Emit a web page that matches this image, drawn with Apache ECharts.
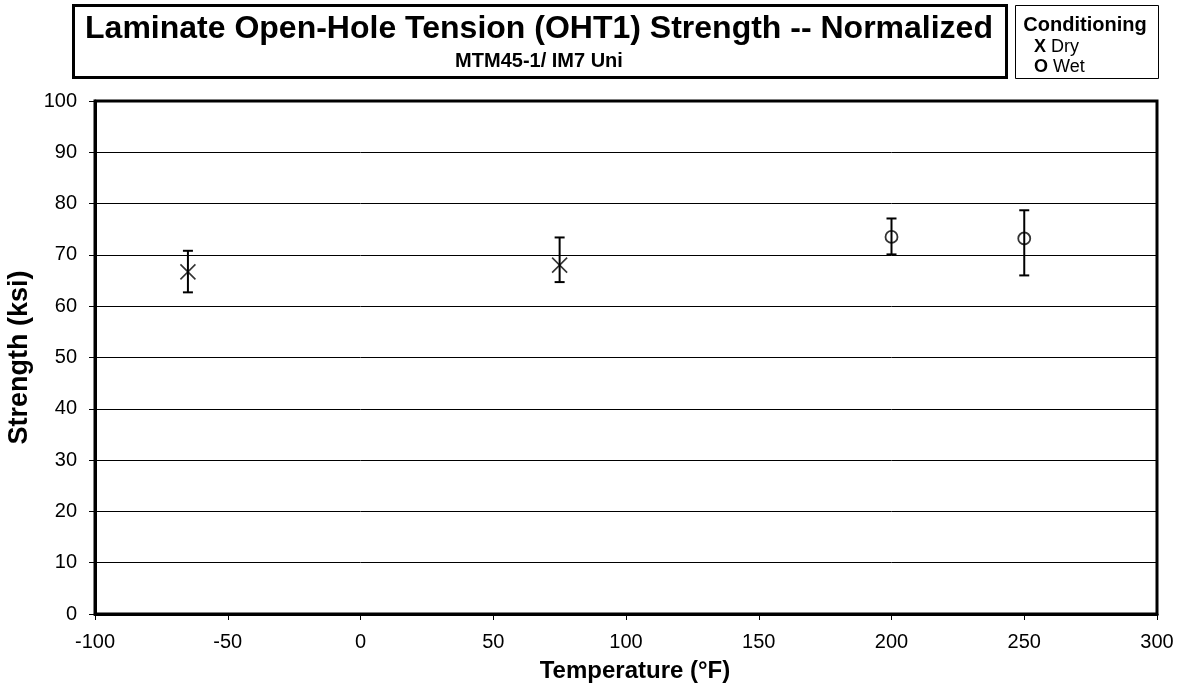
<!DOCTYPE html>
<html>
<head>
<meta charset="utf-8">
<script src="https://cdn.jsdelivr.net/npm/echarts@6/dist/echarts.min.js"></script>
<style>
  html, body { margin: 0; padding: 0; background: #fff; }
  #chart { width: 1182px; height: 692px; }
</style>
</head>
<body>
<div id="chart"></div>
<script>
// Temperature (°F) and strength (ksi)
const dryTemps = [-65, 75];
const dryMean = [66.7, 68.0];
const dryLow = [62.7, 64.7];
const dryHigh = [70.8, 73.4];

const wetTemps = [200, 250];
const wetMean = [73.5, 73.2];
const wetLow = [70.1, 66.0];
const wetHigh = [77.1, 78.7];

const xTicks = [-100, 300, 50];   // min, max, interval
const yTicks = [0, 100, 10];

const FONT = 'Liberation Sans, Arial, sans-serif';

const chart = echarts.init(document.getElementById('chart'), null, { renderer: 'canvas' });

// 误差棒
const errorBarItem = (params, api) => {
  const top = api.coord([api.value(0), api.value(2)]);
  const bot = api.coord([api.value(0), api.value(1)]);
  const w = 5;
  const style = { stroke: '#000', lineWidth: 2, fill: null };
  return {
    type: 'group',
    children: [
      { type: 'line', shape: { x1: top[0], y1: top[1], x2: bot[0], y2: bot[1] }, style },
      { type: 'line', shape: { x1: top[0] - w, y1: top[1], x2: top[0] + w, y2: top[1] }, style },
      { type: 'line', shape: { x1: bot[0] - w, y1: bot[1], x2: bot[0] + w, y2: bot[1] }, style }
    ]
  };
};

const option = {
  animation: false,
  textStyle: { fontFamily: FONT, color: '#000' },
  grid: {
    left: 95, right: 25, top: 101, bottom: 78,
    outerBoundsMode: 'none',
    containLabel: false,
    show: true, borderColor: '#000', borderWidth: 3
  },
  xAxis: {
    type: 'value',
    min: xTicks[0], max: xTicks[1], interval: xTicks[2],
    name: 'Temperature (°F)',
    nameLocation: 'middle',
    nameGap: 45,
    nameTextStyle: { fontSize: 24, fontWeight: 'bold', color: '#000', fontFamily: FONT, padding: [0, 0, 0, 18] },
    axisLine: { show: true, onZero: false, lineStyle: { color: '#000', width: 3 } },
    axisTick: { show: true, length: 6, lineStyle: { color: '#000', width: 1 } },
    axisLabel: { fontSize: 20, color: '#000', margin: 18, fontFamily: FONT },
    splitLine: { show: false }
  },
  yAxis: {
    type: 'value',
    min: yTicks[0], max: yTicks[1], interval: yTicks[2],
    name: 'Strength (ksi)',
    nameLocation: 'middle',
    nameGap: 58,
    nameTextStyle: { fontSize: 27, fontWeight: 'bold', color: '#000', fontFamily: FONT },
    axisLine: { show: true, onZero: false, lineStyle: { color: '#000', width: 3 } },
    axisTick: { show: true, length: 6, lineStyle: { color: '#000', width: 1 } },
    axisLabel: { fontSize: 20, color: '#000', margin: 18, fontFamily: FONT },
    splitLine: { show: true, lineStyle: { color: '#000', width: 1 } }
  },
  graphic: [
    {
      type: 'rect', left: 72, top: 4, z: 10,
      shape: { width: 933, height: 72 },
      style: { fill: '#fff', stroke: '#000', lineWidth: 3 }
    },
    {
      type: 'text', x: 539, y: 29, z: 11,
      style: {
        text: 'Laminate Open-Hole Tension (OHT1) Strength -- Normalized',
        fontFamily: FONT, fontSize: 32, fontWeight: 'bold', fill: '#000',
        align: 'center', verticalAlign: 'middle'
      }
    },
    {
      type: 'text', x: 539, y: 61, z: 11,
      style: {
        text: 'MTM45-1/ IM7 Uni',
        fontFamily: FONT, fontSize: 20, fontWeight: 'bold', fill: '#000',
        align: 'center', verticalAlign: 'middle'
      }
    },
    {
      type: 'rect', left: 1015, top: 5, z: 10,
      shape: { width: 143, height: 73 },
      style: { fill: '#fff', stroke: '#000', lineWidth: 1 }
    },
    {
      type: 'text', x: 1085, y: 25, z: 11,
      style: {
        text: 'Conditioning',
        fontFamily: FONT, fontSize: 20, fontWeight: 'bold', fill: '#000',
        align: 'center', verticalAlign: 'middle'
      }
    },
    {
      type: 'text', x: 1034, y: 47, z: 11,
      style: {
        text: '{b|X} Dry',
        fontFamily: FONT, fontSize: 18, fill: '#000',
        verticalAlign: 'middle',
        rich: { b: { fontFamily: FONT, fontSize: 18, fontWeight: 'bold' } }
      }
    },
    {
      type: 'text', x: 1034, y: 67, z: 11,
      style: {
        text: '{b|O} Wet',
        fontFamily: FONT, fontSize: 18, fill: '#000',
        verticalAlign: 'middle',
        rich: { b: { fontFamily: FONT, fontSize: 18, fontWeight: 'bold' } }
      }
    }
  ],
  series: [
    {
      name: 'Dry error',
      type: 'custom',
      renderItem: errorBarItem,
      data: dryTemps.map((t, i) => [t, dryLow[i], dryHigh[i]]),
      z: 3
    },
    {
      name: 'Wet error',
      type: 'custom',
      renderItem: errorBarItem,
      data: wetTemps.map((t, i) => [t, wetLow[i], wetHigh[i]]),
      z: 3
    },
    {
      name: 'Dry',
      type: 'scatter',
      symbol: 'path://M0,0L10,10M0,10L10,0',
      symbolSize: 15,
      itemStyle: { color: 'transparent', borderColor: '#000', borderWidth: 1.6 },
      data: dryTemps.map((t, i) => [t, dryMean[i]]),
      z: 4
    },
    {
      name: 'Wet',
      type: 'scatter',
      symbol: 'circle',
      symbolSize: 12,
      itemStyle: { color: 'transparent', borderColor: '#000', borderWidth: 1.8 },
      data: wetTemps.map((t, i) => [t, wetMean[i]]),
      z: 4
    }
  ]
};

chart.setOption(option);
</script>
</body>
</html>
